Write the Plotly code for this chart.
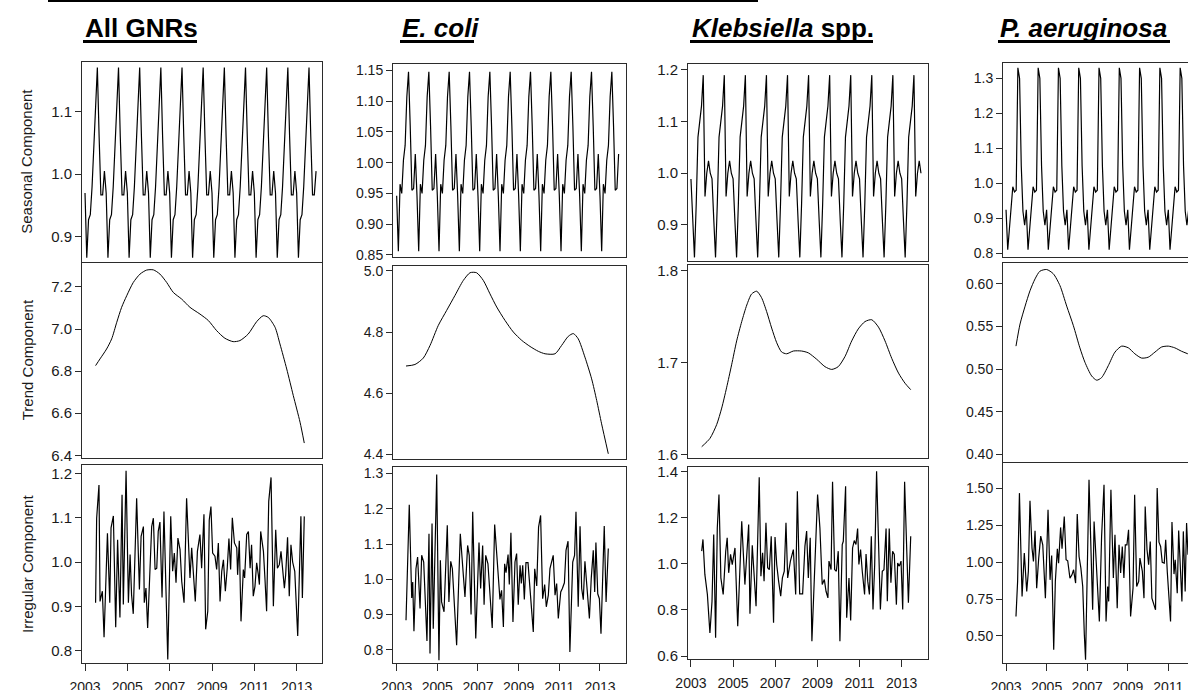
import numpy as np
import plotly.graph_objects as go

# ---------------------------------------------------------------------------
# Multiplicative decomposition of monthly counts, Jan 2003 - Dec 2013
# ---------------------------------------------------------------------------
start_year = 2003
n_months = 132
year_ticks = [2003, 2005, 2007, 2009, 2011, 2013]

# seasonal figures (Jan..Dec), repeated in every year of the series
gnr_seasonal_fig = [0.970, 0.866, 0.927, 0.935, 0.980, 1.050, 1.120, 1.171, 1.060, 0.967, 0.967, 1.005]
ecoli_seasonal_fig = [0.946, 0.856, 0.965, 0.950, 1.004, 1.028, 1.107, 1.148, 1.060, 0.955, 0.958, 1.014]
kleb_seasonal_fig = [0.989, 0.910, 0.837, 0.940, 1.070, 1.100, 1.130, 1.190, 0.955, 1.000, 1.024, 1.000]
paer_seasonal_fig = [0.924, 0.810, 0.870, 0.930, 0.990, 0.975, 0.980, 1.330, 1.300, 1.050, 0.920, 0.880]

# trend component
gnr_trend_t = [2003.50, 2003.71, 2004.02, 2004.26, 2004.50, 2004.73, 2004.97, 2005.28, 2005.60, 2005.91,
               2006.23, 2006.54, 2006.86, 2007.17, 2007.57, 2007.96, 2008.43, 2008.83, 2009.22, 2009.61,
               2010.00, 2010.32, 2010.71, 2011.11, 2011.42, 2011.66, 2011.98, 2012.21, 2012.53, 2012.84,
               2013.16, 2013.36]
gnr_trend = [6.826, 6.858, 6.905, 6.953, 7.032, 7.103, 7.158, 7.221, 7.261, 7.280,
             7.281, 7.261, 7.221, 7.174, 7.142, 7.103, 7.071, 7.040, 6.992, 6.956,
             6.940, 6.945, 6.976, 7.035, 7.063, 7.055, 7.008, 6.929, 6.810, 6.684,
             6.557, 6.458]

ecoli_trend_t = [2003.46, 2003.90, 2004.31, 2004.64, 2005.05, 2005.46, 2005.87, 2006.28, 2006.61, 2006.93,
                 2007.26, 2007.59, 2007.92, 2008.33, 2008.74, 2009.15, 2009.56, 2009.97, 2010.30, 2010.79,
                 2011.11, 2011.44, 2011.69, 2011.93, 2012.26, 2012.59, 2012.84, 2013.08, 2013.41]
ecoli_trend = [4.689, 4.694, 4.715, 4.756, 4.822, 4.871, 4.920, 4.969, 4.994, 4.994,
               4.969, 4.925, 4.882, 4.838, 4.800, 4.773, 4.753, 4.737, 4.729, 4.729,
               4.756, 4.786, 4.795, 4.778, 4.718, 4.647, 4.576, 4.500, 4.402]

kleb_trend_t = [2003.51, 2003.90, 2004.22, 2004.46, 2004.69, 2004.93, 2005.17, 2005.41, 2005.65, 2005.88,
                2006.12, 2006.35, 2006.59, 2006.83, 2007.07, 2007.30, 2007.54, 2007.86, 2008.25, 2008.57,
                2008.97, 2009.36, 2009.68, 2009.99, 2010.31, 2010.63, 2010.94, 2011.26, 2011.58, 2011.90,
                2012.21, 2012.53, 2012.85, 2013.16, 2013.43]
kleb_trend = [1.609, 1.618, 1.633, 1.651, 1.673, 1.698, 1.724, 1.745, 1.763, 1.775,
              1.778, 1.771, 1.756, 1.738, 1.722, 1.712, 1.710, 1.713, 1.713, 1.711,
              1.704, 1.696, 1.693, 1.696, 1.707, 1.724, 1.737, 1.745, 1.747, 1.739,
              1.724, 1.705, 1.689, 1.678, 1.671]

paer_trend_t = [2003.49, 2003.69, 2003.94, 2004.18, 2004.43, 2004.67, 2005.00, 2005.33, 2005.66, 2005.99,
                2006.32, 2006.64, 2006.89, 2007.22, 2007.47, 2007.71, 2008.04, 2008.37, 2008.70, 2009.03,
                2009.35, 2009.68, 2010.01, 2010.34, 2010.67, 2011.00, 2011.32, 2011.65, 2011.96]
paer_trend = [0.527, 0.553, 0.574, 0.592, 0.606, 0.615, 0.617, 0.612, 0.598, 0.574,
              0.551, 0.525, 0.508, 0.492, 0.487, 0.490, 0.504, 0.520, 0.527, 0.525,
              0.518, 0.513, 0.514, 0.520, 0.526, 0.527, 0.525, 0.521, 0.518]

# irregular (random) component
gnr_irr_t = [2003.50, 2003.55, 2003.66, 2003.71, 2003.82, 2003.90, 2004.06, 2004.17, 2004.23, 2004.34,
             2004.45, 2004.54, 2004.65, 2004.75, 2004.81, 2004.94, 2005.05, 2005.13, 2005.20, 2005.28,
             2005.44, 2005.57, 2005.65, 2005.76, 2005.80, 2005.88, 2005.96, 2006.15, 2006.23, 2006.31,
             2006.39, 2006.46, 2006.54, 2006.64, 2006.73, 2006.81, 2006.91, 2007.05, 2007.14, 2007.22,
             2007.30, 2007.39, 2007.49, 2007.57, 2007.68, 2007.80, 2007.88, 2007.96, 2008.04, 2008.12,
             2008.21, 2008.31, 2008.43, 2008.51, 2008.62, 2008.70, 2008.80, 2008.87, 2008.95, 2009.03,
             2009.14, 2009.22, 2009.30, 2009.38, 2009.46, 2009.54, 2009.63, 2009.72, 2009.80, 2009.88,
             2009.96, 2010.06, 2010.17, 2010.21, 2010.29, 2010.37, 2010.48, 2010.54, 2010.64, 2010.72,
             2010.80, 2010.87, 2010.95, 2011.03, 2011.11, 2011.19, 2011.24, 2011.30, 2011.43, 2011.50,
             2011.58, 2011.68, 2011.79, 2011.90, 2012.01, 2012.09, 2012.18, 2012.26, 2012.34, 2012.42,
             2012.48, 2012.57, 2012.65, 2012.73, 2012.81, 2012.91, 2013.05, 2013.16, 2013.20, 2013.27,
             2013.36]
gnr_irr = [0.908, 1.099, 1.174, 0.911, 0.934, 0.830, 1.065, 0.908, 1.077, 1.104,
           0.853, 1.050, 0.875, 1.152, 0.904, 1.206, 0.908, 1.017, 0.926, 0.883,
           1.144, 0.938, 1.058, 1.080, 0.908, 0.941, 0.851, 1.080, 1.099, 0.983,
           0.986, 1.069, 1.090, 0.920, 1.114, 0.941, 0.780, 1.103, 0.979, 1.020,
           0.953, 1.054, 1.028, 0.956, 0.908, 1.144, 1.054, 0.964, 1.032, 0.983,
           0.911, 1.024, 1.062, 0.986, 1.108, 0.848, 0.889, 1.095, 1.125, 1.020,
           1.013, 0.983, 1.043, 0.911, 0.979, 1.005, 0.934, 0.986, 1.053, 0.983,
           1.100, 1.043, 1.032, 0.971, 1.048, 0.866, 0.983, 0.964, 1.062, 1.069,
           0.986, 1.039, 0.923, 0.945, 0.998, 0.971, 0.949, 1.069, 1.024, 0.964,
           0.889, 1.137, 1.191, 0.900, 1.073, 0.986, 0.994, 1.024, 0.983, 0.941,
           0.971, 1.056, 0.923, 1.039, 1.000, 0.979, 0.833, 1.069, 1.103, 0.919,
           1.103]

ecoli_irr_t = [2003.46, 2003.62, 2003.74, 2003.79, 2003.85, 2003.95, 2004.03, 2004.15, 2004.23, 2004.33,
               2004.49, 2004.59, 2004.64, 2004.74, 2004.80, 2004.97, 2005.08, 2005.15, 2005.21, 2005.33,
               2005.49, 2005.57, 2005.66, 2005.74, 2005.95, 2006.13, 2006.28, 2006.36, 2006.49, 2006.57,
               2006.66, 2006.74, 2006.89, 2007.05, 2007.13, 2007.23, 2007.30, 2007.38, 2007.49, 2007.61,
               2007.70, 2007.82, 2008.00, 2008.08, 2008.16, 2008.25, 2008.31, 2008.38, 2008.48, 2008.54,
               2008.62, 2008.72, 2008.82, 2008.90, 2008.98, 2009.07, 2009.13, 2009.20, 2009.28, 2009.36,
               2009.46, 2009.61, 2009.72, 2009.79, 2009.89, 2009.98, 2010.08, 2010.18, 2010.28, 2010.36,
               2010.46, 2010.54, 2010.70, 2010.79, 2010.87, 2010.95, 2011.07, 2011.15, 2011.25, 2011.33,
               2011.43, 2011.52, 2011.66, 2011.75, 2011.82, 2011.93, 2012.02, 2012.10, 2012.18, 2012.26,
               2012.34, 2012.48, 2012.57, 2012.67, 2012.74, 2012.80, 2012.89, 2012.97, 2013.05, 2013.21,
               2013.30, 2013.41]
ecoli_irr = [0.884, 1.211, 0.947, 0.992, 0.853, 1.030, 1.063, 0.917, 1.068, 1.049,
             0.825, 1.129, 0.790, 1.158, 0.860, 1.297, 0.771, 1.054, 0.936, 0.908,
             1.153, 0.936, 1.051, 1.030, 0.813, 1.129, 1.011, 0.950, 1.096, 1.068,
             0.900, 1.191, 0.832, 1.104, 0.974, 1.096, 0.928, 1.068, 1.044, 0.943,
             0.862, 1.155, 1.011, 0.943, 0.969, 0.865, 1.044, 1.019, 1.070, 0.985,
             1.132, 0.879, 1.049, 1.073, 0.928, 1.040, 0.988, 1.040, 0.943, 1.047,
             1.047, 0.926, 0.851, 1.030, 0.981, 1.148, 1.181, 0.945, 0.985, 0.922,
             0.955, 1.030, 1.068, 0.955, 0.988, 0.889, 0.964, 0.974, 0.990, 1.082,
             1.108, 0.794, 1.049, 1.068, 1.191, 0.922, 1.150, 0.974, 0.942, 1.051,
             0.985, 0.889, 1.002, 1.082, 0.964, 1.104, 0.959, 0.945, 0.846, 1.151,
             0.936, 1.087]

kleb_irr_t = [2003.51, 2003.57, 2003.66, 2003.78, 2003.90, 2004.00, 2004.08, 2004.17, 2004.25, 2004.33,
              2004.42, 2004.53, 2004.65, 2004.72, 2004.79, 2004.88, 2004.96, 2005.09, 2005.22, 2005.41,
              2005.56, 2005.74, 2005.80, 2005.91, 2006.09, 2006.24, 2006.32, 2006.40, 2006.47, 2006.56,
              2006.64, 2006.72, 2006.81, 2006.92, 2006.99, 2007.07, 2007.16, 2007.26, 2007.34, 2007.43,
              2007.51, 2007.59, 2007.72, 2007.86, 2007.97, 2008.05, 2008.16, 2008.30, 2008.41, 2008.49,
              2008.57, 2008.66, 2008.74, 2008.89, 2009.01, 2009.12, 2009.23, 2009.33, 2009.41, 2009.50,
              2009.55, 2009.65, 2009.72, 2009.82, 2009.90, 2009.99, 2010.07, 2010.18, 2010.23, 2010.34,
              2010.39, 2010.50, 2010.58, 2010.67, 2010.75, 2010.83, 2010.91, 2010.97, 2011.05, 2011.13,
              2011.24, 2011.31, 2011.39, 2011.47, 2011.56, 2011.64, 2011.72, 2011.81, 2011.92, 2011.99,
              2012.08, 2012.16, 2012.26, 2012.32, 2012.41, 2012.49, 2012.57, 2012.65, 2012.75, 2012.81,
              2012.89, 2012.97, 2013.05, 2013.14, 2013.32, 2013.43]
kleb_irr = [1.055, 1.106, 0.954, 0.867, 0.700, 0.838, 1.127, 0.679, 1.156, 1.301,
            0.939, 0.867, 1.055, 1.113, 0.961, 1.041, 0.997, 1.069, 0.729, 1.185,
            0.910, 1.171, 0.783, 1.081, 0.816, 1.376, 0.946, 1.048, 0.925, 1.178,
            0.983, 0.975, 1.120, 0.744, 1.116, 0.997, 0.925, 0.860, 0.939, 0.968,
            1.178, 0.939, 1.012, 1.062, 0.867, 1.315, 0.870, 0.870, 1.077, 1.142,
            0.939, 1.113, 0.664, 1.041, 1.301, 1.156, 0.910, 0.932, 0.881, 0.852,
            1.012, 0.975, 1.356, 0.975, 0.968, 1.055, 0.664, 1.084, 1.098, 1.337,
            0.766, 0.939, 0.754, 1.069, 1.101, 1.084, 1.153, 0.997, 1.062, 0.968,
            0.867, 1.043, 0.925, 0.867, 1.120, 0.802, 0.997, 1.402, 1.077, 0.802,
            0.968, 0.975, 1.153, 0.838, 1.153, 0.918, 1.055, 1.041, 0.823, 1.004,
            0.990, 1.012, 0.802, 1.356, 0.831, 1.120]

paer_irr_t = [2003.49, 2003.57, 2003.66, 2003.79, 2003.90, 2004.02, 2004.10, 2004.18, 2004.28, 2004.35,
              2004.43, 2004.51, 2004.61, 2004.71, 2004.81, 2004.94, 2005.07, 2005.17, 2005.25, 2005.35,
              2005.43, 2005.53, 2005.59, 2005.69, 2005.76, 2005.87, 2005.96, 2006.04, 2006.15, 2006.25,
              2006.33, 2006.43, 2006.51, 2006.60, 2006.69, 2006.78, 2006.86, 2006.92, 2007.09, 2007.27,
              2007.34, 2007.45, 2007.60, 2007.71, 2007.83, 2007.93, 2008.01, 2008.06, 2008.17, 2008.29,
              2008.37, 2008.48, 2008.57, 2008.65, 2008.73, 2008.81, 2008.88, 2008.96, 2009.04, 2009.14,
              2009.26, 2009.34, 2009.44, 2009.54, 2009.60, 2009.72, 2009.80, 2009.86, 2009.95, 2010.03,
              2010.11, 2010.19, 2010.27, 2010.37, 2010.45, 2010.54, 2010.62, 2010.70, 2010.80, 2010.87,
              2010.95, 2011.03, 2011.11, 2011.18, 2011.28, 2011.34, 2011.44, 2011.51, 2011.60, 2011.67,
              2011.74, 2011.83, 2011.90, 2011.97]
paer_irr = [0.632, 0.869, 1.467, 0.767, 1.061, 0.801, 0.937, 1.415, 1.095, 1.005,
            1.212, 0.824, 1.027, 1.176, 1.117, 0.756, 1.354, 0.880, 1.045, 0.406,
            0.869, 1.090, 0.993, 1.235, 1.090, 1.309, 1.016, 1.009, 0.892, 0.914,
            0.948, 0.858, 1.325, 1.038, 0.959, 0.835, 0.508, 0.339, 1.558, 0.677,
            1.275, 1.005, 0.598, 1.174, 1.524, 0.598, 0.835, 0.734, 1.490, 0.892,
            1.185, 0.688, 1.117, 0.926, 1.106, 0.892, 1.117, 1.117, 1.219, 0.632,
            0.824, 1.456, 0.835, 0.869, 1.027, 0.937, 0.756, 1.377, 1.084, 0.982,
            1.140, 0.756, 0.722, 0.677, 1.501, 1.135, 1.106, 0.998, 0.993, 1.151,
            0.932, 0.767, 0.598, 1.271, 0.919, 1.016, 0.790, 1.214, 0.993, 0.734,
            1.208, 0.801, 1.264, 1.050]

organisms = ["<b>All GNRs</b>", "<b><i>E. coli</i></b>",
             "<b><i>Klebsiella</i> spp.</b>", "<b><i>P. aeruginosa</i></b>"]
row_titles = ["Seasonal Component", "Trend Component", "Irregular Component"]

# ---------------------------------------------------------------------------
# page geometry (pixels) and axis settings
# ---------------------------------------------------------------------------
W, H = 1188, 690
FONT = "Liberation Sans, Arial, Helvetica, sans-serif"
INK = "#1a1a1a"
FRAME = "#2b2b2b"

col_x = [(82, 322), (393, 626), (688, 928), (1003, 1188)]
row_y = [
    [(62, 261.5), (262.5, 458), (465, 663)],
    [(64.3, 256.7), (265.7, 459), (466.7, 663.3)],
    [(64.3, 261), (265, 458.3), (466.7, 659)],
    [(62.7, 256.7), (262.7, 461.5), (463.3, 663.3)],
]
x_ranges = [(2002.858, 2014.197), (2002.82, 2014.28), (2002.86, 2014.25), (2002.85, 2011.97)]
y_ranges = [
    [(0.86, 1.18), (6.387, 7.316), (0.772, 1.219)],
    [(0.847, 1.160), (4.385, 5.017), (0.762, 1.319)],
    [(0.830, 1.211), (1.5964, 1.8065), (0.587, 1.4217)],
    [(0.790, 1.3446), (0.3915, 0.625), (0.315, 1.669)],
]
y_ticks = [
    [[0.9, 1.0, 1.1], [6.4, 6.6, 6.8, 7.0, 7.2], [0.8, 0.9, 1.0, 1.1, 1.2]],
    [[0.85, 0.90, 0.95, 1.00, 1.05, 1.10, 1.15], [4.4, 4.6, 4.8, 5.0], [0.8, 0.9, 1.0, 1.1, 1.2, 1.3]],
    [[0.9, 1.0, 1.1, 1.2], [1.6, 1.7, 1.8], [0.6, 0.8, 1.0, 1.2, 1.4]],
    [[0.8, 0.9, 1.0, 1.1, 1.2, 1.3], [0.40, 0.45, 0.50, 0.55, 0.60], [0.50, 0.75, 1.00, 1.25, 1.50]],
]
y_formats = [[".1f", ".1f", ".1f"], [".2f", ".1f", ".1f"], [".1f", ".1f", ".1f"], [".1f", ".2f", ".2f"]]
tick_size = [15, 14, 15, 14]

month_t = start_year + np.arange(n_months) / 12.0
columns = [
    (np.tile(gnr_seasonal_fig, n_months // 12), gnr_trend_t, gnr_trend, gnr_irr_t, gnr_irr),
    (np.tile(ecoli_seasonal_fig, n_months // 12), ecoli_trend_t, ecoli_trend, ecoli_irr_t, ecoli_irr),
    (np.tile(kleb_seasonal_fig, n_months // 12), kleb_trend_t, kleb_trend, kleb_irr_t, kleb_irr),
    (np.tile(paer_seasonal_fig, n_months // 12), paer_trend_t, paer_trend, paer_irr_t, paer_irr),
]

fig = go.Figure()
layout = {}

for c in range(4):
    seas, tr_t, tr_v, ir_t, ir_v = columns[c]
    series = [(month_t, seas, "linear", 1.2), (tr_t, tr_v, "spline", 1.0), (ir_t, ir_v, "linear", 1.2)]
    for r in range(3):
        k = c * 3 + r + 1
        sfx = "" if k == 1 else str(k)
        xs, ys, shape, lw = series[r]
        fig.add_trace(go.Scatter(
            x=list(xs), y=list(ys), mode="lines",
            line=dict(color="black", width=lw, shape=shape, smoothing=0.7 if shape == "spline" else None),
            xaxis="x" + sfx, yaxis="y" + sfx, showlegend=False, hoverinfo="skip"))

        x0, x1 = col_x[c]
        y0, y1 = row_y[c][r]
        xa = dict(domain=[x0 / W, min(x1 / W, 1.0)], range=list(x_ranges[c]), anchor="y" + sfx,
                  showline=True, mirror=True, linecolor=FRAME, linewidth=1, automargin=False,
                  showgrid=False, zeroline=False, fixedrange=True)
        if r == 2:
            xa.update(ticks="outside", ticklen=7, tickwidth=1, tickcolor=FRAME,
                      tickvals=year_ticks, tickformat="d", ticklabelstandoff=4,
                      tickfont=dict(family=FONT, size=14, color=INK))
        else:
            xa.update(showticklabels=False, ticks="")
        ya = dict(domain=[1 - y1 / H, 1 - y0 / H], range=list(y_ranges[c][r]), anchor="x" + sfx,
                  showline=True, mirror=(c != 3), linecolor=FRAME, linewidth=1, automargin=False,
                  ticks="outside", ticklen=6, tickwidth=1, tickcolor=FRAME,
                  tickvals=y_ticks[c][r], tickformat=y_formats[c][r],
                  tickfont=dict(family=FONT, size=tick_size[c], color=INK),
                  showgrid=False, zeroline=False, fixedrange=True)
        layout["xaxis" + sfx] = xa
        layout["yaxis" + sfx] = ya

annotations = []
# organism headings, underlined with thick rules
title_left = [83, 400, 690, 998]
title_right = [197, 474, 873, 1170]
shapes = []
for c in range(4):
    annotations.append(dict(text=organisms[c], x=title_left[c] / W, y=1 - 28 / H,
                            xref="paper", yref="paper", xanchor="left", yanchor="middle",
                            showarrow=False, font=dict(family=FONT, size=26, color="black")))
    shapes.append(dict(type="line", xref="paper", yref="paper",
                       x0=title_left[c] / W, x1=title_right[c] / W,
                       y0=1 - 41.5 / H, y1=1 - 41.5 / H, line=dict(color="black", width=3)))

# rule under the figure caption along the top edge
shapes.append(dict(type="line", xref="paper", yref="paper", x0=48 / W, x1=758 / W,
                   y0=1 - 1 / H, y1=1 - 1 / H, line=dict(color="black", width=2)))

# component labels on the left of the first column
for r in range(3):
    y0, y1 = row_y[0][r]
    annotations.append(dict(text=row_titles[r], x=27 / W, y=1 - (y0 + y1) / 2 / H,
                            xref="paper", yref="paper", xanchor="center", yanchor="middle",
                            textangle=-90, showarrow=False,
                            font=dict(family=FONT, size=15, color=INK)))

fig.update_layout(
    template="none",
    width=W, height=H, autosize=False,
    margin=dict(l=0, r=0, t=0, b=0, pad=0, autoexpand=False),
    paper_bgcolor="white", plot_bgcolor="white",
    annotations=annotations, shapes=shapes,
    **layout,
)

fig.write_html("out.html")
